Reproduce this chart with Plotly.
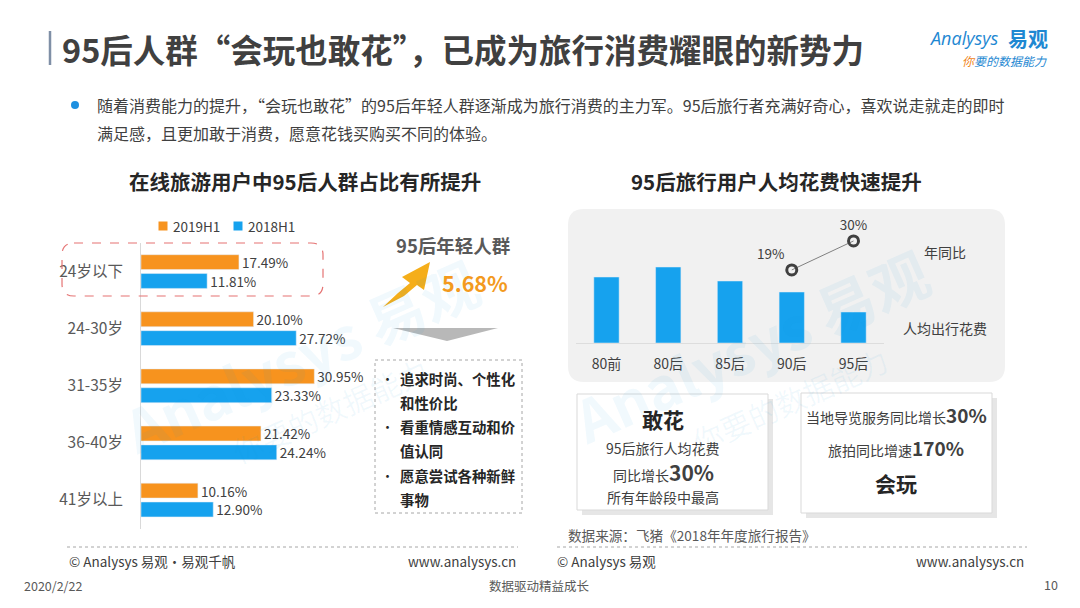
import plotly.graph_objects as go

W, H = 1080, 608
def px(x): return x / W
def py(y): return 1 - y / H

FONT = "Noto Sans CJK SC"
DARK = "#404040"
ORANGE = "#F7931E"
BLUE = "#16A2EE"

# ---------------- data ----------------
age_groups = ["24岁以下", "24-30岁", "31-35岁", "36-40岁", "41岁以上"]
series_names = ["2019H1", "2018H1"]
share_2019h1 = [17.49, 20.10, 30.95, 21.42, 10.16]
share_2018h1 = [11.81, 27.72, 23.33, 24.24, 12.90]

gen_groups = ["80前", "80后", "85后", "90后", "95后"]
spend_index = [66, 76, 62, 51, 31]          # 人均出行花费 (relative, no values shown)
yoy_groups = ["90后", "95后"]
yoy_growth = [19, 30]                        # 年同比 %

fig = go.Figure()

# ---------------- left chart: grouped horizontal bars ----------------
for name, vals, col in [(series_names[0], share_2019h1, ORANGE), (series_names[1], share_2018h1, BLUE)]:
    fig.add_trace(go.Bar(
        y=age_groups, x=vals, name=name, orientation="h",
        marker=dict(color=col), texttemplate="%{x:.2f}%", textposition="outside",
        constraintext="none",
        textfont=dict(size=13.5, color=DARK, family=FONT), cliponaxis=False,
        showlegend=False, xaxis="x", yaxis="y"))

# ---------------- right chart ----------------
fig.add_trace(go.Bar(
    x=gen_groups, y=spend_index, name="人均出行花费", width=0.41,
    marker=dict(color=BLUE), showlegend=False, xaxis="x2", yaxis="y2",
    hoverinfo="skip"))
fig.add_trace(go.Scatter(
    x=yoy_groups, y=yoy_growth, name="年同比", mode="lines+markers+text",
    text=[f"{v}%" for v in yoy_growth], textposition=["top left", "top center"],
    textfont=dict(size=13.5, color=DARK, family=FONT),
    line=dict(color="#808080", width=1),
    marker=dict(symbol="circle-open", size=10, color="#404040", line=dict(width=3)),
    showlegend=False, cliponaxis=False, xaxis="x2", yaxis="y3"))

shapes = []
ann = []

def text(x, y, t, size=14, color=DARK, xa="center", ya="middle", bold=False, **kw):
    ann.append(dict(x=px(x), y=py(y), xref="paper", yref="paper", text=(f"<b>{t}</b>" if bold else t),
                    showarrow=False, xanchor=xa, yanchor=ya,
                    font=dict(size=size, color=color, family=kw.pop("family", FONT)), **kw))

def rect(x0, y0, x1, y1, **kw):
    shapes.append(dict(type="rect", xref="paper", yref="paper", x0=px(x0), x1=px(x1),
                       y0=py(y1), y1=py(y0), **kw))

def rrect_path(x0, y0, x1, y1, r):
    P = lambda x, y: f"{px(x):.5f},{py(y):.5f}"
    return (f"M{P(x0 + r, y0)} L{P(x1 - r, y0)} Q{P(x1, y0)} {P(x1, y0 + r)} "
            f"L{P(x1, y1 - r)} Q{P(x1, y1)} {P(x1 - r, y1)} L{P(x0 + r, y1)} "
            f"Q{P(x0, y1)} {P(x0, y1 - r)} L{P(x0, y0 + r)} Q{P(x0, y0)} {P(x0 + r, y0)} Z")

def poly(points):
    return "M" + " L".join(f"{px(x):.5f},{py(y):.5f}" for x, y in points) + " Z"

# right panel background
shapes.append(dict(type="path", xref="paper", yref="paper", path=rrect_path(568, 209, 1005, 382, 16),
                   fillcolor="#F1F1F1", line=dict(width=0), layer="below"))

# watermarks
WM = "rgba(20,150,220,0.06)"
text(300, 355, "Analysys 易观", size=58, color=WM, bold=True, textangle=-24)
text(330, 410, "你要的数据能力", size=30, color=WM, textangle=-24)
text(750, 345, "Analysys 易观", size=58, color=WM, bold=True, textangle=-24)
text(790, 400, "你要的数据能力", size=30, color=WM, textangle=-24)

# header
shapes.append(dict(type="line", xref="paper", yref="paper", x0=px(50), x1=px(50), y0=py(31), y1=py(65),
                   line=dict(color="#7F8FA6", width=2.5)))
text(60, 48, "95后人群“会玩也敢花”，已成为旅行消费耀眼的新势力", size=32.5, color=DARK, xa="left", bold=True)
text(1001, 38, "<i>Analysys</i>", size=18, color="#1E88D2", xa="right", family="Open Sans")
text(1050, 38, "易观", size=20, color="#1E88D2", xa="right", bold=True)
text(1049, 61, "<i><span style='color:#F08519'>你</span>要的数据能力</i>", size=12, color="#1E88D2", xa="right")

# bullet text
shapes.append(dict(type="circle", xref="paper", yref="paper", x0=px(71), x1=px(79), y0=py(109), y1=py(101),
                   fillcolor="#1E90E0", line=dict(width=0)))
text(95, 105, "随着消费能力的提升，“会玩也敢花”的95后年轻人群逐渐成为旅行消费的主力军。95后旅行者充满好奇心，喜欢说走就走的即时",
     size=16, color=DARK, xa="left")
text(95, 133, "满足感，且更加敢于消费，愿意花钱买购买不同的体验。", size=16, color=DARK, xa="left")

# chart titles
text(305, 181, "在线旅游用户中95后人群占比有所提升", size=20.5, color="#262626", bold=True)
text(776, 181, "95后旅行用户人均花费快速提升", size=20.5, color="#262626", bold=True)

# legend (left chart)
for cx, col, name in [(163, ORANGE, series_names[0]), (238, BLUE, series_names[1])]:
    rect(cx - 4.5, 221.5, cx + 4.5, 230.5, fillcolor=col, line=dict(width=0))
    text(cx + 8, 226, name, size=13.5, color=DARK, xa="left")

# dashed highlight around 24岁以下
shapes.append(dict(type="path", xref="paper", yref="paper", path=rrect_path(62, 243, 323, 296, 12),
                   line=dict(color="#E57373", width=1.2, dash="dash"), fillcolor="rgba(0,0,0,0)"))

# 95后年轻人群 callout
text(453, 245, "95后年轻人群", size=18.5, color="#595959", bold=True)
text(475, 282, "5.68%", size=21.5, color="#F39A1E", bold=True)
shapes.append(dict(type="path", xref="paper", yref="paper",
                   path=poly([(383, 307), (398, 293), (410, 283), (402, 277), (430, 262),
                              (424, 290), (417, 285), (404, 296)]),
                   fillcolor="#F5AE1A", line=dict(width=0)))
shapes.append(dict(type="path", xref="paper", yref="paper",
                   path=poly([(393, 328), (498, 328), (447, 341)]),
                   fillcolor="#B8B8B8", line=dict(width=0)))

# dashed feature box
rect(375, 360, 522, 513, line=dict(color="#A6A6A6", width=1, dash="dot"), fillcolor="rgba(255,255,255,0.6)")
for yb, t, bullet in [(378, "追求时尚、个性化", True), (402, "和性价比", False),
                      (426, "看重情感互动和价", True), (450, "值认同", False),
                      (475, "愿意尝试各种新鲜", True), (499, "事物", False)]:
    if bullet:
        text(387, yb, "•", size=13, color="#262626")
    text(398, yb, t, size=14.4, color="#262626", xa="left", bold=True)

# right chart side labels
text(945, 252, "年同比", size=14, color=DARK)
text(945, 328, "人均出行花费", size=14, color=DARK)

# bottom boxes with shadow
rect(582, 399, 773, 515, fillcolor="#E6E6E6", line=dict(width=0))
rect(577, 394, 768, 510, fillcolor="white", line=dict(color="#D9D9D9", width=1))
rect(806, 398, 997, 518, fillcolor="#E6E6E6", line=dict(width=0))
rect(801, 393, 992, 513, fillcolor="white", line=dict(color="#D9D9D9", width=1))

text(663, 419, "敢花", size=21, color="#262626", bold=True)
text(663, 448, "95后旅行人均花费", size=14, color=DARK)
text(663, 472, "同比增长<b><span style='font-size:21px'>30%</span></b>", size=14, color=DARK)
text(663, 497, "所有年龄段中最高", size=14, color=DARK)
text(896, 414, "当地导览服务同比增长<b><span style='font-size:19px'>30%</span></b>", size=14, color=DARK)
text(896, 447, "旅拍同比增速<b><span style='font-size:19px'>170%</span></b>", size=14, color=DARK)
text(896, 483, "会玩", size=21, color="#262626", bold=True)

# source
text(566, 535, "数据来源：飞猪《2018年年度旅行报告》", size=13.6, color="#595959", xa="left")

# footers
for x0, x1 in [(67, 518), (557, 1027)]:
    shapes.append(dict(type="line", xref="paper", yref="paper", x0=px(x0), x1=px(x1), y0=py(547), y1=py(547),
                       line=dict(color="#A6A6A6", width=1, dash="dot")))
text(67, 561, "© Analysys 易观·易观千帆", size=13.5, color=DARK, xa="left")
text(518, 561, "www.analysys.cn", size=13.5, color=DARK, xa="right")
text(555, 561, "© Analysys 易观", size=13.5, color=DARK, xa="left")
text(1026, 561, "www.analysys.cn", size=13.5, color=DARK, xa="right")
text(22, 585, "2020/2/22", size=12.5, color="#595959", xa="left")
text(539, 585, "数据驱动精益成长", size=12.5, color="#595959")
text(1060, 584, "10", size=12.5, color="#595959", xa="right")

fig.update_layout(
    width=W, height=H, margin=dict(l=0, r=0, t=0, b=0),
    paper_bgcolor="white", plot_bgcolor="rgba(0,0,0,0)",
    font=dict(family=FONT, color=DARK),
    barmode="group", bargap=0.34, bargroupgap=0.21,
    showlegend=False,
    xaxis=dict(domain=[px(141), px(141 + 40 * 5.6)], range=[0, 40], visible=False, fixedrange=True),
    yaxis=dict(domain=[py(528.6), py(243)], range=[4.5, -0.5], type="category",
               categoryorder="array", categoryarray=age_groups,
               showline=True, linecolor="#D9D9D9", linewidth=1, showgrid=False, zeroline=False,
               ticks="", ticklabelstandoff=14, tickfont=dict(size=15.5, color="#595959", family=FONT),
               anchor="x"),
    xaxis2=dict(domain=[px(575.6), px(884.4)], range=[-0.5, 4.5], type="category",
                categoryorder="array", categoryarray=gen_groups,
                showline=True, linecolor="#DDDDDD", linewidth=1, showgrid=False, zeroline=False,
                ticks="", ticklabelstandoff=8, tickfont=dict(size=14, color=DARK, family=FONT),
                anchor="y2"),
    yaxis2=dict(domain=[py(343), py(243)], range=[0, 100], visible=False, anchor="x2"),
    yaxis3=dict(domain=[py(320), py(214.6)], range=[0, 40], visible=False, anchor="x2"),
    shapes=shapes, annotations=ann,
)

fig.write_html("out.html", config={"displayModeBar": False},
               post_script="document.body.style.margin='0';document.body.style.overflow='hidden';")
